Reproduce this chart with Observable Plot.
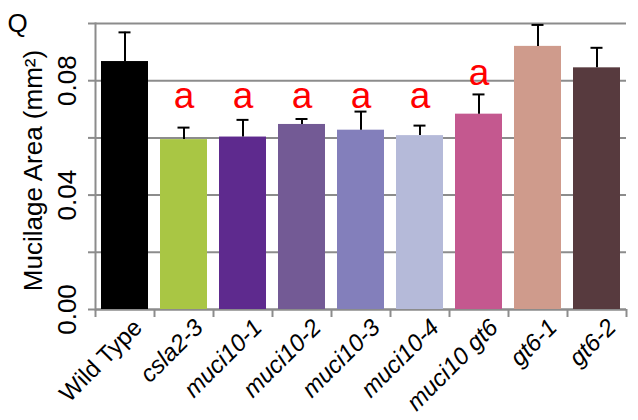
<!DOCTYPE html>
<html>
<head>
<meta charset="utf-8">
<script src="https://cdn.jsdelivr.net/npm/d3@7"></script>
<script src="https://cdn.jsdelivr.net/npm/@observablehq/plot@0.6"></script>
<style>
  html, body { margin: 0; padding: 0; background: white; }
  #chart { width: 638px; height: 420px; }
</style>
</head>
<body>
<div id="chart"></div>
<script>
const categories = ["Wild Type", "csla2-3", "muci10-1", "muci10-2", "muci10-3", "muci10-4", "muci10 gt6", "gt6-1", "gt6-2"];
const means = [0.0867, 0.0594, 0.0603, 0.0647, 0.0627, 0.0608, 0.0683, 0.0920, 0.0845];
const errors = [0.0102, 0.0042, 0.0060, 0.0019, 0.0065, 0.0035, 0.0069, 0.0075, 0.0070];
const letters = ["", "a", "a", "a", "a", "a", "a", "", ""];
const letterLevels = [null, 0.0745, 0.0745, 0.0745, 0.0745, 0.0745, 0.0825, null, null];
const yTicks = [0, 0.02, 0.04, 0.06, 0.08, 0.1];
const yLabelTicks = [0, 0.04, 0.08];
const barColors = ["#000000", "#a9c644", "#5e2a8e", "#735a95", "#837fbb", "#b5bad9", "#c4588f", "#cf9b8c", "#573a3e"];

const data = categories.map((name, i) => ({
  name, mean: means[i], upper: means[i] + errors[i],
  letter: letters[i], letterY: letterLevels[i]
}));

const W = 638, H = 420, ML = 95, MR = 12, MT = 23, MB = 111;
const step = (W - ML - MR) / categories.length;
const gray = "#8c8c8c";
const font = "Liberation Sans, Arial, sans-serif";

const chart = Plot.plot({
  width: W, height: H,
  marginLeft: ML, marginRight: MR, marginTop: MT, marginBottom: MB,
  x: {domain: categories, paddingInner: 0.2, paddingOuter: 0.1, axis: null},
  y: {domain: [0, 0.1], axis: null},
  color: {domain: categories, range: barColors},
  style: {fontFamily: font, background: "white", color: "black"},
  marks: [
    Plot.gridY(yTicks, {stroke: gray, strokeOpacity: 1, strokeWidth: 2}),
    Plot.axisY(yTicks, {tickSize: 7, tickFormat: () => "", stroke: gray, strokeWidth: 2, label: null}),
    Plot.axisX(categories, {tickSize: 8, tickFormat: () => "", dx: -step / 2, stroke: gray, strokeWidth: 2, label: null}),
    Plot.axisX([categories[categories.length - 1]], {tickSize: 8, tickFormat: () => "", dx: step / 2, stroke: gray, strokeWidth: 2, label: null}),
    Plot.frame({anchor: "left", stroke: gray, strokeWidth: 2}),
    Plot.ruleY([0], {stroke: gray, strokeWidth: 2}),
    Plot.barY(data, {x: "name", y: "mean", fill: "name"}),
    Plot.ruleX(data, {x: "name", y1: "mean", y2: "upper", stroke: "black", strokeWidth: 2}),
    Plot.tickY(data, {x: "name", y: "upper", stroke: "black", strokeWidth: 2, insetLeft: 17.5, insetRight: 17.5}),
    Plot.text(data.filter(d => d.letter), {x: "name", y: "letterY", text: "letter", fill: "#ff0000", fontSize: 37, lineAnchor: "middle"}),
    Plot.text(yLabelTicks, {y: d => d, text: d => d.toFixed(2), frameAnchor: "left", dx: -28, rotate: -90, textAnchor: "middle", lineAnchor: "middle", fontSize: 26}),
    Plot.text(["Mucilage Area (mm²)"], {frameAnchor: "left", dx: -62, dy: 4, rotate: -90, textAnchor: "middle", lineAnchor: "middle", fontSize: 26}),
    Plot.text(categories.filter(d => d === "Wild Type"), {x: d => d, frameAnchor: "bottom", rotate: -45, textAnchor: "end", lineAnchor: "middle", dx: 13, dy: 14, fontSize: 24}),
    Plot.text(categories.filter(d => d !== "Wild Type"), {x: d => d, frameAnchor: "bottom", rotate: -45, textAnchor: "end", lineAnchor: "middle", dx: 15, dy: 14, fontSize: 24, fontStyle: "italic"}),
    Plot.text(["Q"], {frameAnchor: "top-left", dx: -88, dy: -10, lineAnchor: "top", fontSize: 26})
  ]
});
document.getElementById("chart").appendChild(chart);
</script>
</body>
</html>
